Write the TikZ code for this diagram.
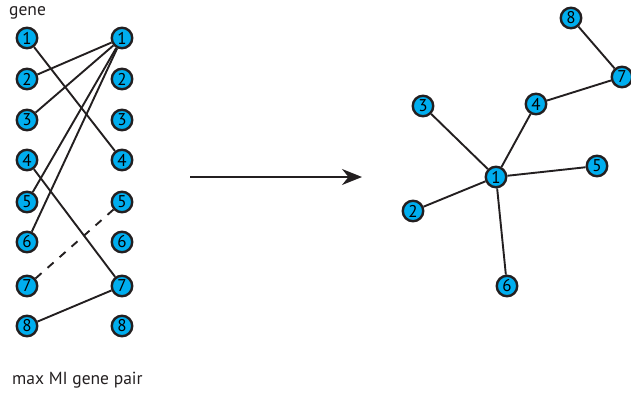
\documentclass[tikz,border=0pt]{standalone}
\usepackage{fontspec}
\setmainfont{PT Sans}
\usetikzlibrary{arrows.meta}
\definecolor{gcyan}{HTML}{00AEEF}
\definecolor{gline}{HTML}{231F20}
\begin{document}
\begin{tikzpicture}[x=1pt,y=-1pt,
  gnode/.style={circle,draw=gline,line width=2.4pt,fill=gcyan,minimum size=20.5pt,inner sep=0pt,font=\fontsize{17}{17}\selectfont},
  edge/.style={draw=gline,line width=1.9pt},
  lbl/.style={font=\fontsize{17.5}{19}\selectfont,text=gline,inner sep=0pt}]
\useasboundingbox (0,0) rectangle (631,394);
\clip (0,0) rectangle (631,394);
\node[lbl,anchor=west] (gene) at (9,13) {gene};
\node[lbl,anchor=west] (pair) at (12,380) {max MI gene pair};
\foreach \i/\y in {1/38,2/79,3/120,4/160,5/202,6/242,7/286,8/326}{
  \node[gnode] (L\i) at (27,\y) {\i};
  \node[gnode] (R\i) at (122,\y) {\i};
}
\draw[edge] (L1) -- (R4);
\draw[edge] (L2) -- (R1);
\draw[edge] (L3) -- (R1);
\draw[edge] (L5) -- (R1);
\draw[edge] (L6) -- (R1);
\draw[edge] (L4) -- (R7);
\draw[edge,dash pattern=on 8pt off 8pt] (L7) -- (R5);
\draw[edge] (L8) -- (R7);
\coordinate (a1) at (190,177);
\coordinate (a2) at (362,177);
\draw[edge,-{Stealth[length=20pt,width=16pt]}] (a1) -- (a2);
\node[gnode] (T8) at (571,18) {8};
\node[gnode] (T7) at (622,77) {7};
\node[gnode] (T4) at (536,104) {4};
\node[gnode] (T3) at (423,106) {3};
\node[gnode] (T1) at (496,177) {1};
\node[gnode] (T5) at (597,166) {5};
\node[gnode] (T2) at (413,211) {2};
\node[gnode] (T6) at (507,286) {6};
\draw[edge] (T8) -- (T7);
\draw[edge] (T7) -- (T4);
\draw[edge] (T4) -- (T1);
\draw[edge] (T3) -- (T1);
\draw[edge] (T5) -- (T1);
\draw[edge] (T2) -- (T1);
\draw[edge] (T6) -- (T1);
\end{tikzpicture}
\end{document}
